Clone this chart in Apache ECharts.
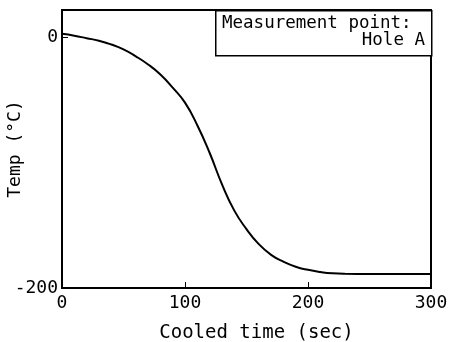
<!DOCTYPE html>
<html lang="en">
<head>
  <meta charset="UTF-8">
  <title>Cooling curve</title>
  <style>
    html, body { margin: 0; padding: 0; background: #fff; }
  </style>
</head>
<body>
  <div id="main" style="width: 451px; height: 342px"></div>
  <script src="https://cdn.jsdelivr.net/npm/echarts@6/dist/echarts.min.js"></script>
  <script>
    // cooled time (sec) and temperature (°C)
    const times = [0, 10, 20, 30, 40, 50, 60, 70, 80, 90, 100, 110, 120, 130, 140, 150, 160, 170, 180, 190, 200, 210, 220, 230, 250, 300];
    const temps = [3, 1.5, -0.5, -2.5, -5.5, -9.5, -15, -21.5, -29.5, -40, -52, -70, -92, -117, -138, -153, -165, -173.5, -179, -183, -185.5, -187.2, -188.3, -188.7, -188.8, -188.8];
    const xTicks = [0, 100, 200, 300];
    const yTicks = [0, -200];
    const noteLines = ['Measurement point:', 'Hole A'];

    const font = 'DejaVu Sans Mono';
    const chart = echarts.init(document.getElementById('main'));

    chart.setOption({
      animation: false,
      grid: {
        left: 62, right: 20, top: 10, bottom: 54,
        outerBoundsMode: 'none',
        containLabel: false,
        show: true, borderColor: '#000', borderWidth: 2
      },
      xAxis: {
        type: 'value',
        min: 0, max: 300, interval: 100,
        name: 'Cooled time (sec)',
        nameLocation: 'middle',
        nameGap: 36,
        nameMoveOverlap: false,
        nameTextStyle: { fontFamily: font, fontSize: 19, color: '#000', padding: [0, 0, 0, 20] },
        axisLine: { onZero: false, lineStyle: { color: '#000', width: 2 } },
        axisTick: { inside: true, length: 6, lineStyle: { color: '#000' } },
        axisLabel: {
          fontFamily: font, fontSize: 18, color: '#000', margin: 6,
          formatter: v => xTicks.includes(v) ? String(v) : ''
        },
        splitLine: { show: false }
      },
      yAxis: {
        type: 'value',
        min: -200, max: 22, interval: 200,
        name: 'Temp (°C)',
        nameLocation: 'middle',
        nameGap: 38,
        nameMoveOverlap: false,
        nameTextStyle: { fontFamily: font, fontSize: 18, color: '#000' },
        axisLine: { onZero: false, lineStyle: { color: '#000', width: 2 } },
        axisTick: { inside: true, length: 6, lineStyle: { color: '#000' } },
        axisLabel: {
          fontFamily: font, fontSize: 18, color: '#000', margin: 4,
          formatter: v => yTicks.includes(v) ? String(v) : ''
        },
        splitLine: { show: false }
      },
      graphic: [
        {
          type: 'rect', left: 215, top: 10, z: 10,
          shape: { width: 216, height: 45 },
          style: { fill: '#fff', stroke: '#000', lineWidth: 1.5 }
        },
        {
          type: 'text', left: 222, top: 14, z: 11,
          style: { text: noteLines[0], font: '17.5px "' + font + '"', fill: '#000' }
        },
        {
          type: 'text', right: 26, top: 31, z: 11,
          style: { text: noteLines[1], font: '17.5px "' + font + '"', fill: '#000' }
        }
      ],
      series: [{
        type: 'line',
        data: times.map((t, i) => [t, temps[i]]),
        smooth: 0.5,
        showSymbol: false,
        lineStyle: { color: '#000', width: 2 }
      }]
    });
  </script>
</body>
</html>
